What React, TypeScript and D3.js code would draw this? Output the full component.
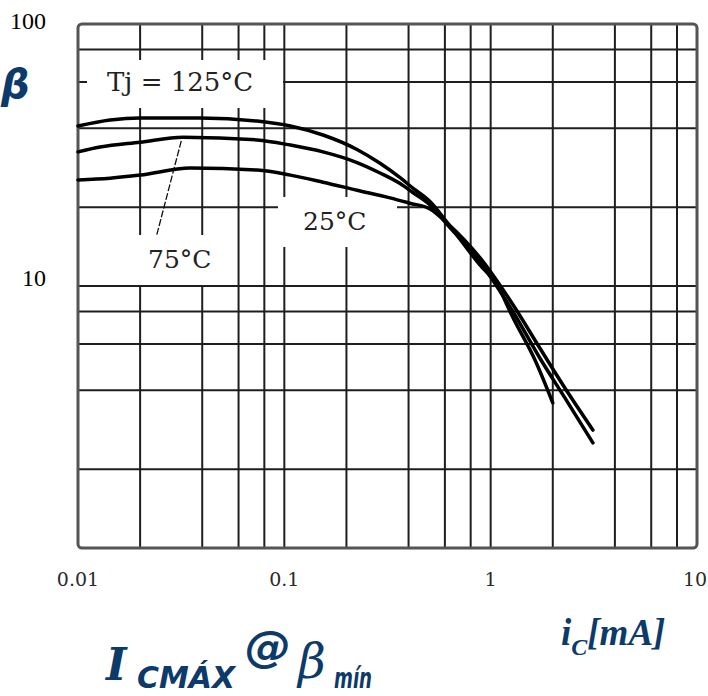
import React from "react";
import * as d3 from "d3";

const W = 708;
const H = 696;

// Grid values
const xGrid = [0.01, 0.02, 0.04, 0.06, 0.08, 0.1, 0.2, 0.4, 0.6, 0.8, 1, 2, 4, 6, 8, 10];
const yGrid = [1, 2, 4, 6, 8, 10, 20, 40, 60, 80, 100];
const xTickLabels = ["0.01", "0.1", "1", "10"];
const xTickValues = [0.01, 0.1, 1, 10];
const yTickLabels = ["100", "10"];
const yTickValues = [100, 10];

// Curves: collector current (mA) and beta
const ic125 = [0.01, 0.0143, 0.02, 0.039, 0.0738, 0.107, 0.154, 0.225, 0.291, 0.364, 0.421, 0.508, 0.615, 0.889, 1.074, 1.285, 1.64, 2.0];
const beta125 = [40.8, 43.0, 43.8, 43.8, 42.6, 40.8, 37.7, 33.2, 29.4, 25.9, 23.6, 21.0, 17.5, 12.0, 10.1, 7.55, 5.22, 3.58];

const ic75 = [0.01, 0.0128, 0.02, 0.0323, 0.0738, 0.107, 0.154, 0.225, 0.291, 0.364, 0.421, 0.508, 0.615, 0.889, 1.285, 1.73, 2.29, 3.13];
const beta75 = [32.5, 33.9, 35.4, 37.0, 36.1, 34.5, 32.5, 29.6, 27.0, 24.6, 22.7, 20.4, 17.2, 12.3, 7.96, 5.31, 3.74, 2.52];

const ic25 = [0.01, 0.0143, 0.02, 0.035, 0.0738, 0.107, 0.154, 0.225, 0.325, 0.406, 0.508, 0.615, 0.889, 1.285, 1.73, 2.29, 3.13];
const beta25 = [25.4, 25.8, 26.5, 28.2, 27.7, 26.5, 24.9, 23.2, 21.7, 20.7, 19.7, 17.4, 12.8, 8.46, 5.8, 4.08, 2.82];

const seriesNames = ["Tj = 125°C", "75°C", "25°C"];

const NAVY = "#0c3a6a";

export default function App() {
  const x = d3.scaleLog().domain([0.01, 10]).range([78, 697]);
  const y = d3.scaleLog().domain([1, 100]).range([548, 24]);

  const line = d3
    .line<[number, number]>()
    .x((d) => x(d[0]))
    .y((d) => y(d[1]))
    .curve(d3.curveMonotoneX);

  const curves = [
    ic125.map((v, i) => [v, beta125[i]] as [number, number]),
    ic75.map((v, i) => [v, beta75[i]] as [number, number]),
    ic25.map((v, i) => [v, beta25[i]] as [number, number]),
  ];

  const x0 = x(0.01), x1 = x(10), yTop = y(100), yBot = y(1);

  // label masks (white boxes that interrupt the grid)
  const boxes = [
    { x: 87, y: 60, w: 196, h: 48 },
    { x: 122, y: 235, w: 106, h: 50 },
    { x: 278, y: 197, w: 119, h: 50 },
  ];

  return (
    <svg
      width={W}
      height={H}
      style={{ position: "absolute", left: 0, top: 0, background: "#fff" }}
    >
      <rect x={0} y={0} width={W} height={H} fill="#fff" />
      {/* grid */}
      <g stroke="#1e1e1e" strokeWidth={2}>
        {xGrid.slice(1, -1).map((v) => (
          <line key={"gx" + v} x1={x(v)} x2={x(v)} y1={yTop} y2={yBot} />
        ))}
        {yGrid.slice(1, -1).map((v) => (
          <line key={"gy" + v} x1={x0} x2={x1} y1={y(v)} y2={y(v)} />
        ))}
      </g>
      {boxes.map((b, i) => (
        <rect key={"b" + i} x={b.x} y={b.y} width={b.w} height={b.h} fill="#fff" />
      ))}
      {/* frame */}
      <rect
        x={x0}
        y={yTop}
        width={x1 - x0}
        height={yBot - yTop}
        rx={4}
        fill="none"
        stroke="#555"
        strokeWidth={3}
      />
      {/* leader line for 75°C */}
      <line
        x1={x(0.0241)}
        y1={y(15.7)}
        x2={x(0.032)}
        y2={y(37)}
        stroke="#111"
        strokeWidth={1.3}
        strokeDasharray="7,2"
      />
      {/* curves */}
      <g fill="none" stroke="#000" strokeWidth={3.5} strokeLinejoin="round" strokeLinecap="round">
        {curves.map((c, i) => (
          <path key={"c" + i} d={line(c) || ""} />
        ))}
      </g>
      {/* curve labels */}
      <g fontFamily="'DejaVu Serif'" fill="#222">
        <text x={107} y={91} fontSize={26}>{seriesNames[0]}</text>
        <text x={148} y={268} fontSize={25}>{seriesNames[1]}</text>
        <text x={303} y={230} fontSize={25}>{seriesNames[2]}</text>
      </g>
      {/* x tick labels */}
      <g fontFamily="'DejaVu Serif'" fontSize={19} fill="#2a2a2a" textAnchor="middle">
        {xTickValues.map((v, i) => (
          <text key={"xt" + v} x={x(v) - (v === 10 ? 2 : 0)} y={586}>{xTickLabels[i]}</text>
        ))}
      </g>
      {/* y tick labels */}
      <g fontFamily="'Liberation Serif'" fontSize={24} fill="#000" textAnchor="end">
        {yTickValues.map((v, i) => (
          <text key={"yt" + v} x={46} y={y(v) + (v === 100 ? 5 : 0)}>{yTickLabels[i]}</text>
        ))}
      </g>
      {/* beta axis symbol */}
      <text x={1} y={98} fontFamily="'DejaVu Sans'" fontWeight="bold" fontStyle="italic" fontSize={40} fill={NAVY}>β</text>
      {/* x axis title */}
      <text x={561} y={645} fontFamily="'Liberation Serif'" fontWeight="bold" fontStyle="italic" fontSize={37} fill={NAVY}>
        i<tspan fontSize={24} dy={10}>C</tspan><tspan dy={-10}>[mA]</tspan>
      </text>
      {/* formula */}
      <g fill={NAVY} fontWeight="bold" fontStyle="italic">
        <text x={106} y={680} fontFamily="'DejaVu Serif'" fontSize={44}>I</text>
        <text x={137} y={688} fontFamily="'DejaVu Sans'" fontSize={30} textLength={98} lengthAdjust="spacingAndGlyphs">CMÁX</text>
        <text x={245} y={662} fontFamily="'DejaVu Sans'" fontSize={42} textLength={46} lengthAdjust="spacingAndGlyphs">@</text>
        <text x={298} y={678} fontFamily="'DejaVu Serif'" fontSize={48} fontWeight="normal">β</text>
        <text x={334} y={688} fontFamily="'DejaVu Sans'" fontSize={28} textLength={38} lengthAdjust="spacingAndGlyphs">mín</text>
      </g>
    </svg>
  );
}
